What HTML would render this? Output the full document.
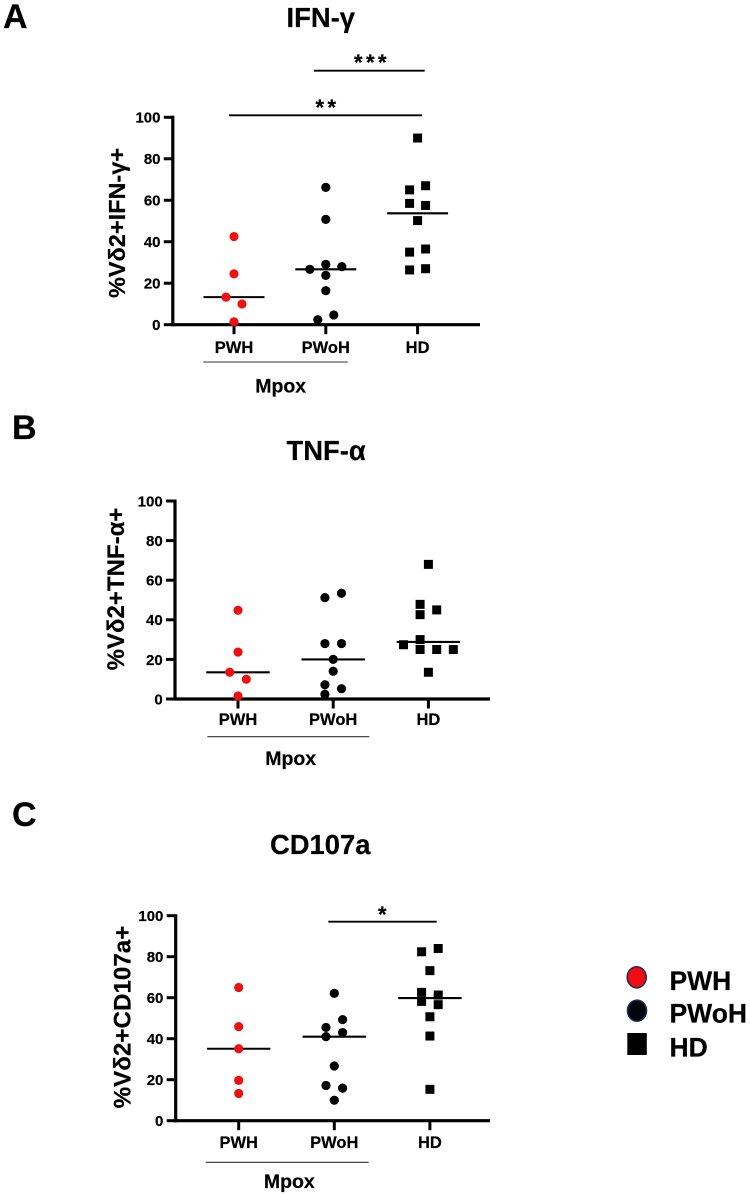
<!DOCTYPE html>
<html lang="en">
<head>
<meta charset="utf-8">
<title>Vδ2 cytokine panels</title>
<style>
html,body{margin:0;padding:0;background:#fff;}
svg{display:block;}
text{font-family:"Liberation Sans",Arial,sans-serif;font-weight:700;fill:#000;stroke:#000;stroke-width:0.2;}
</style>
</head>
<body>
<svg id="figure" xmlns="http://www.w3.org/2000/svg" width="750" height="1195" viewBox="0 0 750 1195">
  <rect x="0" y="0" width="750" height="1195" fill="#fff"/>
  <g id="legend">
    <ellipse cx="636.7" cy="977.3" rx="9.5" ry="10.5" fill="#f00d12" stroke="#2a2a55" stroke-width="1.6"/>
    <text x="669.5" y="990" font-size="26.5">PWH</text>
    <ellipse cx="637" cy="1010.7" rx="9.5" ry="10.5" fill="#04040c" stroke="#1c2c5c" stroke-width="1.6"/>
    <text x="669.5" y="1022.7" font-size="26.5">PWoH</text>
    <rect x="627.3" y="1033" width="19.5" height="22" fill="#000"/>
    <text x="669.5" y="1056.7" font-size="26.5">HD</text>
  </g>
</svg>
<script>
// Shared axis data
const categories = ['PWH', 'PWoH', 'HD'];
const yTicks = [0, 20, 40, 60, 80, 100];

// Panel A: IFN-γ
const ifnPwh = [42.5, 24.5, 13.3, 10, 1.4];
const ifnPwoh = [66.2, 50.8, 29.1, 28, 26.7, 23.8, 16.4, 4.7, 2.4];
const ifnHd = [90, 67, 65, 58.5, 57.5, 50.2, 36.5, 35, 27, 26.4];
const ifnMedians = [13.3, 26.7, 53.7];
// Swarm slots are signed column indexes within each category
const ifnPwhSlots = [0, 0, -1, 1, 0];
const ifnPwohSlots = [0, 0, 0, 2, -2, 0, 0, 1, -1];
const ifnHdSlots = [0, 1, -1, -1, 1, 0, 1, -1, 1, -1];

// Panel B: TNF-α
const tnfPwh = [44.8, 23.7, 13.5, 10, 1.5];
const tnfPwoh = [53.4, 51.2, 28, 28, 20, 14, 7.2, 5.2, 2.4];
const tnfHd = [68, 47.8, 45, 42.6, 30, 27.4, 25, 25, 25, 13.5];
const tnfMedians = [13.5, 20, 28.8];
const tnfPwhSlots = [0, 0, -1, 1, 0];
const tnfPwohSlots = [1, -1, -1, 1, 0, 0, -1, 1, -1];
const tnfHdSlots = [0, -1, 1, -1, -1, -3, -1, 1, 3, 0];

// Panel C: CD107a
const cdPwh = [65, 45.9, 35.1, 19.7, 13.3];
const cdPwoh = [62.1, 49.3, 45.5, 43, 41, 26.7, 17.2, 15.9, 10];
const cdHd = [84, 82.4, 73.2, 62.6, 61.3, 58.2, 56.6, 50.7, 41.3, 15.3];
const cdMedians = [35.1, 41, 59.8];
const cdPwhSlots = [0, 0, 0, 0, 0];
const cdPwohSlots = [0, 1, -1, 1, -1, 0, -1, 1, 0];
const cdHdSlots = [1, -1, 0, -1, 1, -1, 1, 0, 0, 0];

const NS = 'http://www.w3.org/2000/svg';
const figure = document.getElementById('figure');
const legendNode = document.getElementById('legend');

function make(tag, attrs, parent, content) {
  const el = document.createElementNS(NS, tag);
  for (const key in attrs) el.setAttribute(key, attrs[key]);
  if (content !== undefined) el.textContent = content;
  parent.appendChild(el);
  return el;
}

function drawPanel(p) {
  const g = make('g', {}, figure);
  
  

  const yScale = v => p.y0 + (p.y100 - p.y0) * v / 100;
  const xScale = i => p.xFirst + p.xStep * i;

  const letter = make('text', {x: p.letterX, y: p.letterY, 'font-size': 34}, g, p.letter);
  
  

  const title = make('text', {x: p.titleX, y: p.titleY, 'font-size': 27.4}, g, p.title);
  
  

  const yTitle = make('text', {
    x: 0, y: 0, 'font-size': p.yTitleSize, 'text-anchor': 'middle',
    transform: 'translate(' + p.yTitleX + ' ' + p.yTitleY + ') rotate(-90)'
  }, g, p.yTitle);
  
  

  yTicks.forEach(t => {
    const tick = make('line', {x1: p.axisX - 9, x2: p.axisX, y1: yScale(t), y2: yScale(t), stroke: '#000', 'stroke-width': 3}, g);
    
    
    const label = make('text', {x: p.axisX - 12.3, y: yScale(t) + 5.4, 'font-size': 15, 'text-anchor': 'end'}, g, String(t));
    
    
  });

  categories.forEach((c, i) => {
    const tick = make('line', {x1: xScale(i), x2: xScale(i), y1: p.y0, y2: p.y0 + 9.5, stroke: '#000', 'stroke-width': 3}, g);
    
    
    const label = make('text', {x: xScale(i), y: p.tickLabelY, 'font-size': 16.5, 'text-anchor': 'middle'}, g, c);
    
    
  });

  const yAxis = make('line', {x1: p.axisX, x2: p.axisX, y1: p.y100 - 1.5, y2: p.y0 + 1.5, stroke: '#000', 'stroke-width': 3.2}, g);
  
  

  const xAxis = make('line', {x1: p.axisX - 1.5, x2: p.axisEnd, y1: p.y0, y2: p.y0, stroke: '#000', 'stroke-width': 3.2}, g);
  
  

  p.medians.forEach((m, i) => {
    const line = make('line', {x1: xScale(i) - p.medianHalf, x2: xScale(i) + p.medianHalf, y1: yScale(m), y2: yScale(m), stroke: '#000', 'stroke-width': 2.1}, g);
    
    
  });

  p.series.forEach((values, i) => {
    const slots = p.slots[i];
    values.forEach((v, j) => {
      const cx = xScale(i) + slots[j] * p.jitter;
      const cy = yScale(v);
      let mark;
      if (categories[i] === 'HD') {
        mark = make('rect', {x: cx - 4.5, y: cy - 4.5, width: 9, height: 9, fill: '#000'}, g);
      } else {
        mark = make('circle', {cx: cx, cy: cy, r: 4.6, fill: categories[i] === 'PWH' ? '#ee1111' : '#000'}, g);
      }
      
      
    });
  });

  const group = make('line', {x1: p.groupX1, x2: p.groupX2, y1: p.groupY, y2: p.groupY, stroke: '#333', 'stroke-width': 1.1}, g);
  
  

  const groupLabel = make('text', {x: p.groupLabelX, y: p.groupLabelY, 'font-size': 19.5, 'text-anchor': 'middle'}, g, 'Mpox');
  
  

  p.sig.forEach(s => {
    const bar = make('line', {x1: s.x1, x2: s.x2, y1: s.y, y2: s.y, stroke: '#000', 'stroke-width': 1.9}, g);
    
    
    const stars = make('text', {x: s.textX, y: s.textY, 'font-size': 22, 'text-anchor': 'middle', 'letter-spacing': 3.4}, g, s.label);
    
    
  });
}

drawPanel({
  key: 'a', letter: 'A', letterX: 3, letterY: 28, title: 'IFN-γ', titleX: 286.5, titleY: 27,
  yTitle: '%Vδ2+IFN-γ+', yTitleX: 125, yTitleY: 223, yTitleSize: 23.5,
  axisX: 172.8, axisEnd: 480, y0: 324.7, y100: 117.3, xFirst: 234, xStep: 91.8, jitter: 8, medianHalf: 30.5,
  tickLabelY: 353, groupX1: 203.3, groupX2: 347.7, groupY: 362, groupLabelX: 280.7, groupLabelY: 392.5,
  series: [ifnPwh, ifnPwoh, ifnHd], slots: [ifnPwhSlots, ifnPwohSlots, ifnHdSlots], medians: ifnMedians,
  sig: [
    {x1: 314, x2: 424.7, y: 70.7, textX: 372, textY: 70, label: '***'},
    {x1: 229, x2: 422, y: 115.3, textX: 327.5, textY: 115, label: '**'}
  ]
});

drawPanel({
  key: 'b', letter: 'B', letterX: 12, letterY: 439, title: 'TNF-α', titleX: 286.5, titleY: 460,
  yTitle: '%Vδ2+TNF-α+', yTitleX: 124, yTitleY: 589, yTitleSize: 24,
  axisX: 175, axisEnd: 490, y0: 699, y100: 501, xFirst: 238, xStep: 95.2, jitter: 8.3, medianHalf: 31.7,
  tickLabelY: 725, groupX1: 207.3, groupX2: 369.3, groupY: 736.7, groupLabelX: 290.7, groupLabelY: 765,
  series: [tnfPwh, tnfPwoh, tnfHd], slots: [tnfPwhSlots, tnfPwohSlots, tnfHdSlots], medians: tnfMedians,
  sig: []
});

drawPanel({
  key: 'c', letter: 'C', letterX: 12, letterY: 826, title: 'CD107a', titleX: 270, titleY: 854,
  yTitle: '%Vδ2+CD107a+', yTitleX: 130.7, yTitleY: 1017, yTitleSize: 24.2,
  axisX: 175.7, axisEnd: 490, y0: 1120.7, y100: 915.7, xFirst: 238.7, xStep: 95.6, jitter: 8.3, medianHalf: 31.7,
  tickLabelY: 1148, groupX1: 205.7, groupX2: 368.7, groupY: 1162.3, groupLabelX: 289.3, groupLabelY: 1188,
  series: [cdPwh, cdPwoh, cdHd], slots: [cdPwhSlots, cdPwohSlots, cdHdSlots], medians: cdMedians,
  sig: [
    {x1: 328.3, x2: 436.7, y: 921.7, textX: 384, textY: 922, label: '*'}
  ]
});

figure.appendChild(legendNode);
</script>
</body>
</html>
